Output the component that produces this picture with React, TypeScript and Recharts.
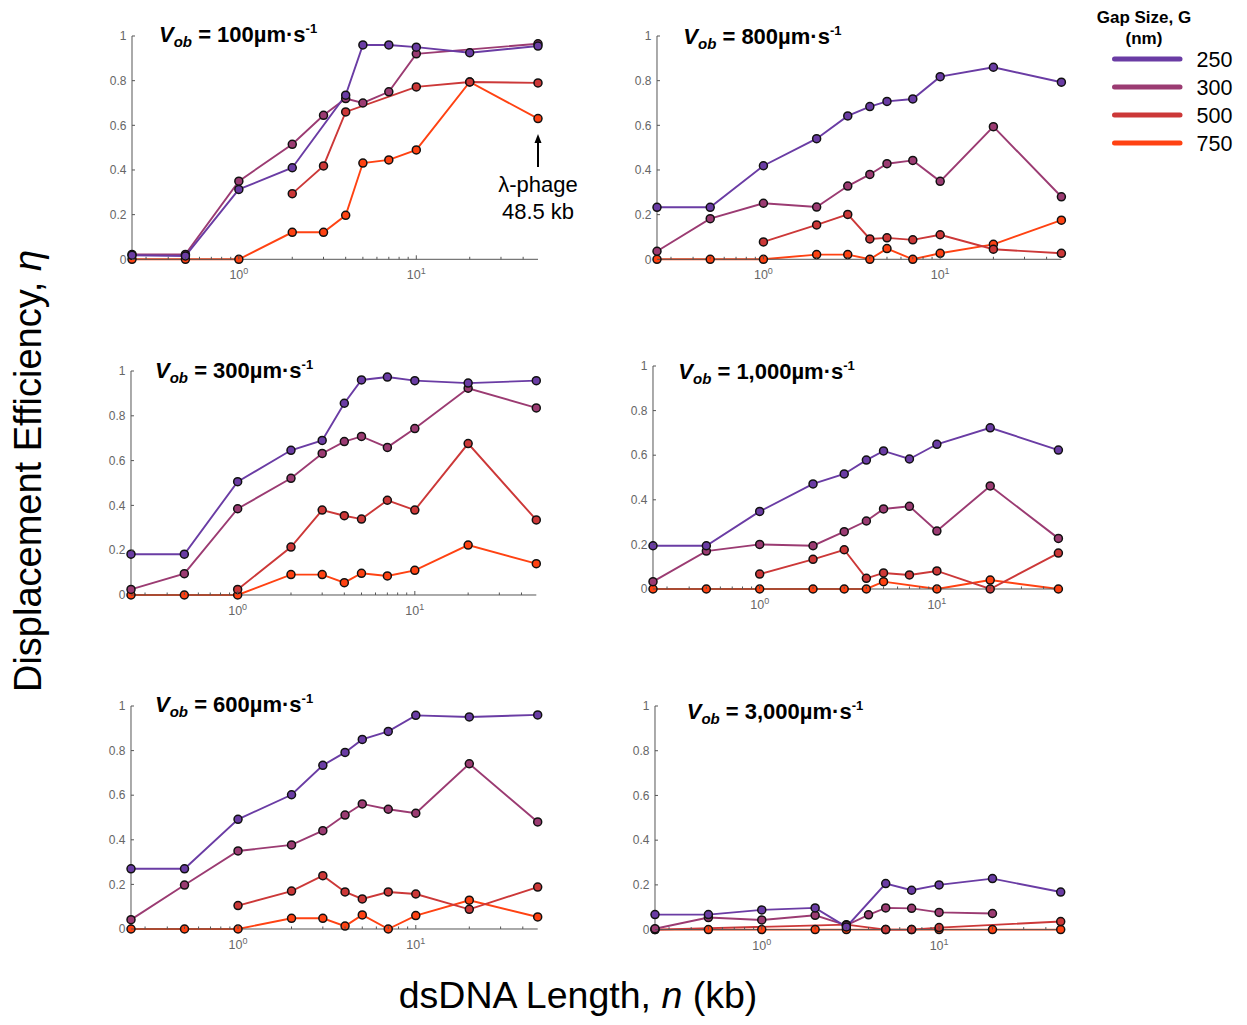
import React from 'react';
import { LineChart, Line, XAxis, YAxis } from 'recharts';

// dsDNA length (kb) — x positions
const lengthsKb = [0.25, 0.5, 1, 2, 3, 4, 5, 7, 10, 20, 48.5];
const gapSizes = ['250', '300', '500', '750'];
const gapColors = ['#6a3ca4', '#9b3b72', '#cc3838', '#ff4212'];
const xTicks = [0.3, 0.4, 0.5, 0.6, 0.7, 0.8, 0.9, 1, 2, 3, 4, 5, 6, 7, 8, 9, 10, 20, 30, 40];
const yTicks = [0, 0.2, 0.4, 0.6, 0.8, 1];
const yTickLabels = ['0', '0.2', '0.4', '0.6', '0.8', '1'];

// Vob = 100
const v100_g250 = [0.018, 0.015, 0.313, 0.41, null, 0.735, 0.96, 0.96, 0.95, 0.925, 0.955];
const v100_g300 = [0.022, 0.022, 0.35, 0.515, 0.645, 0.72, 0.7, 0.75, 0.92, null, 0.965];
const v100_g500 = [null, null, null, 0.294, 0.418, 0.66, null, null, 0.772, 0.794, 0.79];
const v100_g750 = [0, 0, 0, 0.121, 0.121, 0.197, 0.431, 0.445, 0.49, 0.794, 0.63];

// Vob = 800
const v800_g250 = [0.233, 0.233, 0.419, 0.54, 0.642, 0.684, 0.707, 0.718, 0.818, 0.86, 0.793];
const v800_g300 = [0.036, 0.182, 0.251, 0.234, 0.328, 0.38, 0.428, 0.443, 0.349, 0.594, 0.28];
const v800_g500 = [null, null, 0.078, 0.154, 0.201, 0.091, 0.096, 0.087, 0.11, 0.045, 0.027];
const v800_g750 = [0, 0, 0, 0.021, 0.021, 0, 0.048, 0, 0.027, 0.067, 0.175];

// Vob = 300
const v300_g250 = [0.182, 0.182, 0.506, 0.646, 0.69, 0.856, 0.96, 0.973, 0.957, 0.946, 0.957];
const v300_g300 = [0.025, 0.095, 0.385, 0.521, 0.632, 0.685, 0.708, 0.659, 0.743, 0.923, 0.835];
const v300_g500 = [null, null, 0.025, 0.214, 0.379, 0.354, 0.339, 0.423, 0.379, 0.676, 0.335];
const v300_g750 = [0, 0, 0, 0.091, 0.091, 0.055, 0.097, 0.085, 0.11, 0.223, 0.14];

// Vob = 1000
const v1000_g250 = [0.194, 0.194, 0.348, 0.471, 0.516, 0.578, 0.619, 0.583, 0.649, 0.723, 0.623];
const v1000_g300 = [0.033, 0.17, 0.2, 0.194, 0.257, 0.305, 0.359, 0.371, 0.26, 0.462, 0.227];
const v1000_g500 = [null, null, 0.067, 0.133, 0.176, 0.048, 0.072, 0.063, 0.081, 0, 0.161];
const v1000_g750 = [0, 0, 0, 0, 0, 0, 0.033, null, 0, 0.04, 0];

// Vob = 600
const v600_g250 = [0.27, 0.27, 0.492, 0.602, 0.734, 0.792, 0.85, 0.886, 0.958, 0.951, 0.96];
const v600_g300 = [0.042, 0.197, 0.35, 0.377, 0.441, 0.511, 0.561, 0.537, 0.519, 0.741, 0.48];
const v600_g500 = [null, null, 0.105, 0.17, 0.239, 0.166, 0.135, 0.166, 0.157, 0.088, 0.188];
const v600_g750 = [0, 0, 0, 0.048, 0.048, 0.013, 0.063, 0, 0.06, 0.129, 0.054];

// Vob = 3000
const v3000_g250 = [0.067, 0.067, 0.088, 0.097, 0.012, null, 0.206, 0.176, 0.2, 0.228, 0.168];
const v3000_g300 = [0.004, 0.054, 0.043, 0.064, 0.019, 0.066, 0.097, 0.095, 0.077, 0.072, null];
const v3000_g500 = [0, null, null, null, 0.022, null, 0, 0, 0.009, null, 0.036];
const v3000_g750 = [0, 0, 0, 0, 0, null, 0, 0, 0, 0, 0];

const FONT = '"Liberation Sans", Arial, Helvetica, sans-serif';

function buildRows(s250: any[], s300: any[], s500: any[], s750: any[]) {
  return lengthsKb.map((n, i) => ({ n, g250: s250[i], g300: s300[i], g500: s500[i], g750: s750[i] }));
}

const panels = [
  { speed: '100', rows: buildRows(v100_g250, v100_g300, v100_g500, v100_g750), left: 132.3, top: 36, w: 406, h: 223.3, tx: 159, ty: 41.7 },
  { speed: '800', rows: buildRows(v800_g250, v800_g300, v800_g500, v800_g750), left: 657.3, top: 36, w: 404.4, h: 223.3, tx: 683.3, ty: 44.3 },
  { speed: '300', rows: buildRows(v300_g250, v300_g300, v300_g500, v300_g750), left: 130.7, top: 371, w: 405.3, h: 224, tx: 155, ty: 378.3 },
  { speed: '1,000', rows: buildRows(v1000_g250, v1000_g300, v1000_g500, v1000_g750), left: 653.3, top: 366, w: 405.4, h: 223, tx: 678.3, ty: 379.3 },
  { speed: '600', rows: buildRows(v600_g250, v600_g300, v600_g500, v600_g750), left: 131, top: 705.7, w: 406.7, h: 223, tx: 155, ty: 711.7 },
  { speed: '3,000', rows: buildRows(v3000_g250, v3000_g300, v3000_g500, v3000_g750), left: 655, top: 705.7, w: 405.7, h: 223.6, tx: 686.7, ty: 719.3 },
];

const XTick = (props: any) => {
  const { x, y, payload } = props;
  const v = payload.value;
  const major = v === 1 || v === 10;
  return (
    <g>
      <line x1={x} x2={x} y1={y} y2={y - (major ? 4 : 2.5)} stroke="#555" strokeWidth={1} />
      {major && (
        <text x={x} y={y + 20} textAnchor="middle" fontSize={12.5} fill="#666" fontFamily={FONT}>
          10<tspan dy={-5} fontSize={9}>{v === 1 ? '0' : '1'}</tspan>
        </text>
      )}
    </g>
  );
};

const YTick = (props: any) => {
  const { x, y, payload } = props;
  const idx = yTicks.indexOf(payload.value);
  return (
    <g>
      <line x1={x} x2={x + 3} y1={y} y2={y} stroke="#555" strokeWidth={1} />
      <text x={x - 5.5} y={y + 4.3} textAnchor="end" fontSize={12} fill="#666" fontFamily={FONT}>
        {idx >= 0 ? yTickLabels[idx] : ''}
      </text>
    </g>
  );
};

const order = [3, 2, 1, 0];

function Panel({ p }: { p: any }) {
  return (
    <div style={{ position: 'absolute', left: p.left - 40, top: p.top - 10 }}>
      <LineChart width={p.w + 50} height={p.h + 40} data={p.rows} margin={{ top: 10, right: 10, bottom: 0, left: 0 }}>
        <XAxis
          dataKey="n"
          type="number"
          scale="log"
          domain={[0.25, 48.5]}
          ticks={xTicks}
          interval={0}
          tick={<XTick />}
          tickLine={false}
          tickSize={0}
          tickMargin={0}
          height={30}
          axisLine={{ stroke: '#555', strokeWidth: 1 }}
        />
        <YAxis
          type="number"
          domain={[0, 1]}
          ticks={yTicks}
          interval={0}
          width={40}
          tick={<YTick />}
          tickLine={false}
          tickSize={0}
          tickMargin={0}
          axisLine={{ stroke: '#555', strokeWidth: 1 }}
        />
        {order.map((i) => (
          <Line
            key={gapSizes[i]}
            dataKey={'g' + gapSizes[i]}
            stroke={gapColors[i]}
            strokeWidth={1.9}
            connectNulls
            isAnimationActive={false}
            dot={{ r: 4, fill: gapColors[i], stroke: '#111', strokeWidth: 1.5 }}
            activeDot={false}
          />
        ))}
      </LineChart>
    </div>
  );
}

export default function App() {
  return (
    <div style={{ position: 'absolute', left: 0, top: 0, width: 1247, height: 1025, background: '#fff', fontFamily: FONT }}>
      {panels.map((p) => (
        <Panel key={p.speed} p={p} />
      ))}
      <svg width={1247} height={1025} style={{ position: 'absolute', left: 0, top: 0, pointerEvents: 'none' }} fontFamily={FONT}>
        {panels.map((p) => (
          <text key={'t' + p.speed} x={p.tx} y={p.ty} fontSize={22} fontWeight="bold" fill="#000">
            <tspan fontStyle="italic">V</tspan>
            <tspan fontStyle="italic" fontSize={15} dy={5}>ob</tspan>
            <tspan dy={-5}>{' = ' + p.speed + 'µm·s'}</tspan>
            <tspan fontSize={13} dy={-9}>-1</tspan>
          </text>
        ))}
        {/* annotation */}
        <line x1={538} x2={538} y1={167} y2={142} stroke="#000" strokeWidth={2} />
        <polygon points="538,134 534.5,143 541.5,143" fill="#000" />
        <text x={538} y={192} textAnchor="middle" fontSize={22} fill="#000">λ-phage</text>
        <text x={538} y={218.5} textAnchor="middle" fontSize={22} fill="#000">48.5 kb</text>
        {/* axis titles */}
        <text transform="translate(41,471) rotate(-90)" textAnchor="middle" fontSize={38} fill="#000">
          Displacement Efficiency, <tspan fontStyle="italic">η</tspan>
        </text>
        <text x={578} y={1008} textAnchor="middle" fontSize={37.5} fill="#000">
          dsDNA Length, <tspan fontStyle="italic">n</tspan> (kb)
        </text>
        {/* legend */}
        <text x={1144} y={22.5} textAnchor="middle" fontSize={17} fontWeight="bold" fill="#000">Gap Size, G</text>
        <text x={1144} y={43.5} textAnchor="middle" fontSize={17} fontWeight="bold" fill="#000">(nm)</text>
        {gapSizes.map((g, i) => (
          <g key={'lg' + g}>
            <line x1={1114.5} x2={1180} y1={59 + i * 28} y2={59 + i * 28} stroke={gapColors[i]} strokeWidth={5} strokeLinecap="round" />
            <text x={1196.5} y={66.5 + i * 28} fontSize={21.5} fill="#000">{g}</text>
          </g>
        ))}
      </svg>
    </div>
  );
}
